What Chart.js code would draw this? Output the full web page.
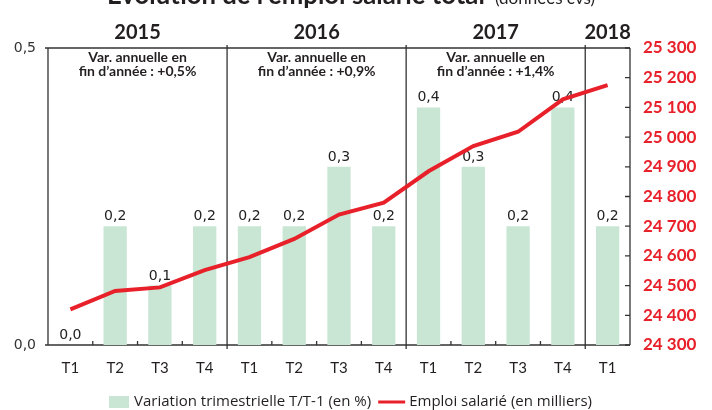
<!DOCTYPE html>
<html>
<head>
<meta charset="utf-8">
<script src="https://cdn.jsdelivr.net/npm/chart.js@4"></script>
<style>
  html, body { margin: 0; padding: 0; background: #fff; }
  canvas { display: block; }
</style>
</head>
<body>
<canvas id="c" width="712" height="410"></canvas>
<script>
const quarters = ['T1','T2','T3','T4','T1','T2','T3','T4','T1','T2','T3','T4','T1'];
const years = ['2015','2016','2017','2018'];
const annualVar = ['+0,5%','+0,9%','+1,4%'];
const quarterlyChange = [0.0,0.2,0.1,0.2,0.2,0.2,0.3,0.2,0.4,0.3,0.2,0.4,0.2];
const employment = [24420,24482,24494,24552,24596,24657,24739,24779,24885,24970,25018,25127,25175];
const leftTicks = [0, 0.5];
const titleMain = "Évolution de l'emploi salarié total";
const titleSub = "(données cvs)";
const legendBar = 'Variation trimestrielle T/T-1 (en %)';
const legendLine = 'Emploi salarié (en milliers)';

const GREEN = '#c8e6d3';
const RED = '#e8202a';
const AXIS = '#333333';

const fmtPct = v => v.toFixed(1).replace('.', ',');
const fmtThousands = v => String(Math.round(v)).replace(/\B(?=(\d{3})+(?!\d))/g, ' ');

const framePlugin = {
  id: 'frame',
  beforeDatasetsDraw(chart) {
    const {ctx, chartArea: a, scales} = chart;
    const x = scales.x, y2 = scales.y2, y = scales.y;
    ctx.save();
    ctx.strokeStyle = AXIS;
    ctx.lineWidth = 1.3;
    ctx.beginPath();
    ctx.moveTo(a.left, a.top); ctx.lineTo(a.right, a.top);
    ctx.moveTo(a.left, a.bottom); ctx.lineTo(a.right, a.bottom);
    ctx.moveTo(a.left, a.top); ctx.lineTo(a.left, a.bottom);
    ctx.moveTo(a.right, a.top); ctx.lineTo(a.right, a.bottom);
    ctx.stroke();
    ctx.beginPath();
    leftTicks.forEach(v => { const py = y.getPixelForValue(v); ctx.moveTo(a.left - 3, py); ctx.lineTo(a.left, py); });
    ctx.stroke();
    ctx.beginPath();
    y2.ticks.forEach(t => {
      const py = y2.getPixelForValue(t.value);
      ctx.moveTo(a.right - 5, py); ctx.lineTo(a.right, py);
    });
    ctx.stroke();
    const n = quarters.length;
    ctx.beginPath();
    for (let i = 1; i < n; i++) {
      const bx = (x.getPixelForValue(i - 1) + x.getPixelForValue(i)) / 2;
      if (i % 4 === 0) {
        ctx.moveTo(bx, a.top - 3); ctx.lineTo(bx, a.bottom + 4);
      } else {
        ctx.moveTo(bx, a.bottom); ctx.lineTo(bx, a.bottom - 4);
      }
    }
    ctx.stroke();
    ctx.restore();
  },
  afterDatasetDraw(chart, args) {
    if (args.index !== 1) return;
    const {ctx} = chart;
    const meta = chart.getDatasetMeta(1);
    ctx.save();
    ctx.fillStyle = '#222';
    ctx.font = '14px "DejaVu Sans"';
    ctx.textAlign = 'center';
    ctx.textBaseline = 'alphabetic';
    meta.data.forEach((bar, i) => {
      ctx.fillText(fmtPct(quarterlyChange[i]), bar.x, bar.y - 6);
    });
    ctx.restore();
  },
  afterDraw(chart) {
    const {ctx, scales} = chart;
    const x = scales.x;
    ctx.save();
    ctx.fillStyle = '#231f20';
    ctx.textBaseline = 'alphabetic';
    ctx.textAlign = 'left';
    let fs = 22;
    ctx.font = 'bold ' + fs + 'px Lato';
    const w0 = ctx.measureText(titleMain).width;
    fs = fs * 378 / w0;
    ctx.font = 'bold ' + fs.toFixed(2) + 'px Lato';
    ctx.fillText(titleMain, 107, 4);
    ctx.font = '17px Lato';
    ctx.fillText(titleSub, 495, 4);
    ctx.textAlign = 'center';
    ctx.font = 'bold 20px Lato';
    years.forEach((yr, k) => {
      const first = k * 4, last = Math.min(k * 4 + 3, quarters.length - 1);
      const cx = (x.getPixelForValue(first) + x.getPixelForValue(last)) / 2;
      ctx.fillText(yr, cx, 39);
    });
    ctx.font = 'bold 14px Lato';
    annualVar.forEach((v, k) => {
      const cx = (x.getPixelForValue(k * 4) + x.getPixelForValue(k * 4 + 3)) / 2;
      ctx.fillText('Var. annuelle en', cx, 62);
      ctx.fillText('fin d\u2019année : ' + v, cx, 76);
    });
    ctx.textAlign = 'left';
    ctx.font = '15px "Open Sans"';
    ctx.fillStyle = GREEN;
    let lx = 109;
    const ly = 402;
    ctx.fillRect(lx, ly - 6, 20, 12);
    lx += 25;
    ctx.fillStyle = '#231f20';
    ctx.textBaseline = 'middle';
    ctx.fillText(legendBar, lx, ly);
    lx += ctx.measureText(legendBar).width + 7;
    ctx.strokeStyle = RED;
    ctx.lineWidth = 3;
    ctx.beginPath(); ctx.moveTo(lx, ly); ctx.lineTo(lx + 27, ly); ctx.stroke();
    lx += 31;
    ctx.fillText(legendLine, lx, ly);
    ctx.restore();
  }
};

new Chart(document.getElementById('c'), {
  data: {
    labels: quarters,
    datasets: [
      {
        type: 'line',
        label: legendLine,
        data: employment,
        yAxisID: 'y2',
        borderColor: RED,
        borderWidth: 4,
        pointRadius: 0,
        tension: 0,
        order: 0,
        clip: false
      },
      {
        type: 'bar',
        label: legendBar,
        data: quarterlyChange,
        yAxisID: 'y',
        backgroundColor: GREEN,
        categoryPercentage: 1,
        barPercentage: 0.52,
        order: 1
      }
    ]
  },
  options: {
    responsive: false,
    animation: false,
    layout: { padding: { top: 48, left: 0, right: 0, bottom: 0 } },
    plugins: { legend: { display: false }, tooltip: { enabled: false }, title: { display: false } },
    scales: {
      x: {
        grid: { display: false, drawTicks: false },
        border: { display: false },
        ticks: { color: '#231f20', font: { family: 'Lato', size: 15 }, padding: 14, maxRotation: 0, autoSkip: false },
        afterFit: s => { s.height = 65; }
      },
      y: {
        position: 'left',
        min: 0, max: 0.5,
        afterBuildTicks: s => { s.ticks = leftTicks.map(v => ({ value: v })); },
        grid: { display: false, drawTicks: false },
        border: { display: false },
        ticks: { color: '#333', font: { family: 'DejaVu Sans', size: 14 }, padding: 12, callback: v => fmtPct(v) },
        afterFit: s => { s.width = 48; }
      },
      y2: {
        position: 'right',
        min: 24300, max: 25300,
        grid: { display: false, drawTicks: false },
        border: { display: false },
        ticks: { stepSize: 100, color: RED, font: { family: 'Lato', size: 17, weight: 'bold' }, padding: 13, callback: v => fmtThousands(v) },
        afterFit: s => { s.width = 82; }
      }
    }
  },
  plugins: [framePlugin]
});
</script>
</body>
</html>
